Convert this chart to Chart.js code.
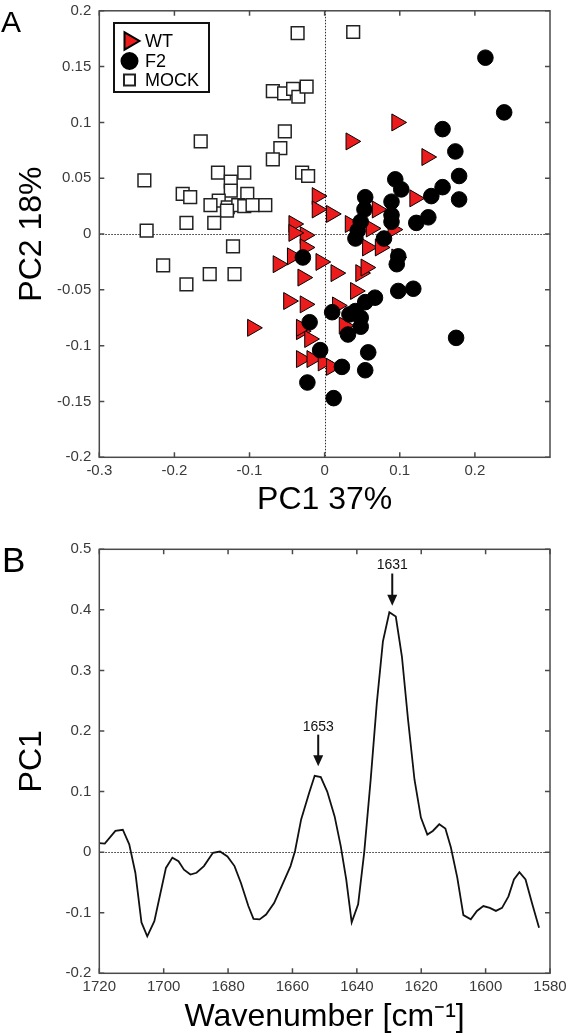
<!DOCTYPE html>
<html><head><meta charset="utf-8">
<script src="https://cdn.jsdelivr.net/npm/chart.js@4/dist/chart.umd.min.js"></script>
<style>
html,body{margin:0;padding:0;background:#fff;}
#wrap{position:relative;width:566px;height:1035px;overflow:hidden;background:#fff;}
canvas{position:absolute;left:0;}
#cA{top:0;} #cB{top:520px;}
.lab{position:absolute;font-family:"Liberation Sans",Arial,Helvetica,sans-serif;color:#000;}
</style></head><body>
<div id="wrap">
<canvas id="cA" width="566" height="520"></canvas>
<canvas id="cB" width="566" height="515"></canvas>
<div class="lab" style="left:1px;top:7px;font-size:30px;line-height:30px">A</div>
<div class="lab" style="left:2px;top:542px;font-size:35px;line-height:35px">B</div>
</div>
<script>
const FONT = '"Liberation Sans", Arial, Helvetica, sans-serif';

// ---------- Panel A data (PCA scores) ----------
const legendLabels = ['WT', 'F2', 'MOCK'];
const wtX = [0.096,0.035,0.136,-0.010,0.120,-0.010,0.009,0.070,-0.041,0.034,-0.026,0.062,0.091,-0.041,-0.026,0.057,0.074,-0.062,-0.043,-0.005,0.015,-0.029,0.048,0.055,0.041,-0.048,-0.026,0.017,-0.096,-0.031,-0.020,0.026,-0.031,-0.017,-0.002,0.009,0.096,-0.031];
const wtY = [0.100,0.083,0.069,0.034,0.032,0.022,0.018,0.022,0.009,0.009,-0.001,0.005,0.004,0.001,-0.012,-0.012,-0.012,-0.027,-0.020,-0.025,-0.035,-0.039,-0.035,-0.030,-0.051,-0.060,-0.063,-0.064,-0.084,-0.087,-0.094,-0.082,-0.112,-0.112,-0.115,-0.119,-0.021,-0.084];
const f2X = [0.214,0.239,0.157,0.174,0.179,0.157,0.179,0.142,0.094,0.102,0.089,0.054,0.053,0.089,0.089,0.138,0.122,0.048,0.044,0.041,0.079,0.098,0.096,-0.029,0.098,0.118,0.067,0.054,0.010,0.033,0.048,0.048,0.031,-0.020,-0.006,0.023,0.058,0.054,-0.023,0.012,0.175,0.041];
const f2Y = [0.158,0.109,0.094,0.074,0.052,0.042,0.031,0.034,0.049,0.040,0.029,0.033,0.022,0.017,0.011,0.015,0.010,0.011,0.003,-0.004,-0.004,-0.020,-0.027,-0.021,-0.051,-0.049,-0.057,-0.061,-0.070,-0.072,-0.075,-0.083,-0.090,-0.079,-0.104,-0.119,-0.106,-0.122,-0.133,-0.147,-0.093,-0.069];
const mockX = [-0.036,0.038,-0.069,-0.054,-0.042,-0.035,-0.024,-0.053,-0.059,-0.069,-0.165,-0.240,-0.030,-0.022,-0.142,-0.107,-0.125,-0.125,-0.103,-0.189,-0.179,-0.141,-0.152,-0.129,-0.115,-0.107,-0.096,-0.079,-0.130,-0.184,-0.147,-0.237,-0.122,-0.215,-0.153,-0.120,-0.184];
const mockY = [0.180,0.181,0.128,0.126,0.130,0.123,0.132,0.092,0.077,0.067,0.083,0.048,0.055,0.052,0.055,0.055,0.047,0.039,0.036,0.036,0.033,0.030,0.026,0.024,0.026,0.025,0.026,0.026,0.021,0.010,0.010,0.003,-0.011,-0.028,-0.036,-0.036,-0.045];
const xTicksA = [-0.3,-0.2,-0.1,0,0.1,0.2];
const xTickLabelsA = ['-0.3','-0.2','-0.1','0','0.1','0.2'];
const yTicksA = [-0.2,-0.15,-0.1,-0.05,0,0.05,0.1,0.15,0.2];
const yTickLabelsA = ['-0.2','-0.15','-0.1','-0.05','0','0.05','0.1','0.15','0.2'];

// ---------- Panel B data (PC1 loading) ----------
const wavenumber = [1720,1718.3,1715,1712.7,1710.7,1708.8,1706.9,1705.1,1702.9,1699.3,1697.3,1695.4,1693.7,1691.7,1689.8,1687.5,1684.7,1682.5,1680.2,1678,1676,1673.7,1672.1,1670.2,1668.2,1665.7,1663.1,1660.6,1659.2,1657.3,1654.8,1653.1,1651.2,1649.2,1646.9,1645,1643.3,1641.6,1639.6,1637.7,1635.7,1633.8,1631.9,1629.9,1627.9,1626,1624.1,1622.1,1620.1,1618.1,1616.4,1614.4,1612.5,1610.8,1608.8,1606.9,1604.6,1602.7,1600.7,1598.7,1596.8,1594.9,1592.9,1591.2,1589.5,1587.6,1585.6,1583.4];
const pc1 = [0.015,0.014,0.035,0.037,0.013,-0.034,-0.116,-0.139,-0.114,-0.026,-0.009,-0.015,-0.029,-0.037,-0.034,-0.023,-0.001,0.001,-0.007,-0.023,-0.051,-0.089,-0.110,-0.111,-0.103,-0.084,-0.053,-0.023,0.002,0.054,0.098,0.126,0.124,0.100,0.059,0.010,-0.045,-0.116,-0.086,0.000,0.120,0.246,0.348,0.396,0.389,0.323,0.219,0.120,0.057,0.029,0.035,0.046,0.039,0.008,-0.042,-0.104,-0.111,-0.097,-0.089,-0.092,-0.097,-0.092,-0.073,-0.045,-0.033,-0.045,-0.084,-0.125];
const xTicksB = [1720,1700,1680,1660,1640,1620,1600,1580];
const xTickLabelsB = ['1720','1700','1680','1660','1640','1620','1600','1580'];
const yTicksB = [-0.2,-0.1,0,0.1,0.2,0.3,0.4,0.5];
const yTickLabelsB = ['-0.2','-0.1','0','0.1','0.2','0.3','0.4','0.5'];
const peakLabels = ['1653','1631'];
const peakX = [1652,1629];
const peakTextY = [0.207,0.474];
const arrowTopY = [0.194,0.460];
const arrowTipY = [0.142,0.407];

// ---------- helpers ----------
const pts = (xs, ys) => xs.map((x, i) => ({x: x, y: ys[i]}));
function fixAxis(size) {
  return function(scale) {
    if (scale.isHorizontal()) scale.height = size; else scale.width = size;
    scale.paddingLeft = 0; scale.paddingRight = 0; scale.paddingTop = 0; scale.paddingBottom = 0;
  };
}
function setTicks(vals) { return function(scale) { scale.ticks = vals.map(v => ({value: v})); }; }
function labeler(vals, labels) { return function(v) { const i = vals.indexOf(v); return i >= 0 ? labels[i] : ''; }; }

const AXIS_COLOR = '#4a4a4a';
const TICK_COLOR = '#3a3a3a';

const framePlugin = {
  id: 'frame',
  beforeDatasetsDraw(chart, args, opts) {
    const {ctx, chartArea: a} = chart;
    ctx.save();
    ctx.strokeStyle = '#2e2e2e';
    ctx.lineWidth = 1;
    ctx.setLineDash([1.5, 1.5]);
    if (opts.zeroX) {
      const px = Math.round(chart.scales.x.getPixelForValue(0)) + 0.5;
      ctx.beginPath(); ctx.moveTo(px, a.top); ctx.lineTo(px, a.bottom); ctx.stroke();
    }
    if (opts.zeroY) {
      const py = Math.round(chart.scales.y.getPixelForValue(0)) + 0.5;
      ctx.beginPath(); ctx.moveTo(a.left, py); ctx.lineTo(a.right, py); ctx.stroke();
    }
    ctx.restore();
  },
  afterDatasetsDraw(chart) {
    const {ctx, chartArea: a} = chart;
    const L = 5;
    ctx.save();
    ctx.strokeStyle = AXIS_COLOR;
    ctx.lineWidth = 1.5;
    chart.scales.x.ticks.forEach(t => {
      const px = chart.scales.x.getPixelForValue(t.value);
      ctx.beginPath();
      ctx.moveTo(px, a.bottom); ctx.lineTo(px, a.bottom - L);
      ctx.moveTo(px, a.top); ctx.lineTo(px, a.top + L);
      ctx.stroke();
    });
    chart.scales.y.ticks.forEach(t => {
      const py = chart.scales.y.getPixelForValue(t.value);
      ctx.beginPath();
      ctx.moveTo(a.left, py); ctx.lineTo(a.left + L, py);
      ctx.moveTo(a.right, py); ctx.lineTo(a.right - L, py);
      ctx.stroke();
    });
    ctx.strokeRect(a.left, a.top, a.right - a.left, a.bottom - a.top);
    ctx.restore();
  }
};

const boxLegendPlugin = {
  id: 'boxLegend',
  afterDraw(chart, args, o) {
    if (!o || !o.box) return;
    const ctx = chart.ctx;
    ctx.save();
    ctx.fillStyle = '#fff';
    ctx.fillRect(o.box[0], o.box[1], o.box[2] - o.box[0], o.box[3] - o.box[1]);
    ctx.lineWidth = 2;
    ctx.strokeStyle = '#111';
    ctx.strokeRect(o.box[0], o.box[1], o.box[2] - o.box[0], o.box[3] - o.box[1]);
    chart.data.datasets.forEach(ds => {
      const idx = legendLabels.indexOf(ds.label);
      const y = o.rowY[idx];
      ctx.fillStyle = ds.backgroundColor;
      ctx.strokeStyle = ds.borderColor;
      Chart.helpers.drawPoint(ctx, {pointStyle: ds.pointStyle, rotation: ds.rotation || 0, radius: o.radius[idx], borderWidth: ds.borderWidth}, o.markerX, y);
      ctx.fillStyle = '#000';
      ctx.font = o.fontSize + 'px ' + FONT;
      ctx.textBaseline = 'middle';
      ctx.textAlign = 'left';
      ctx.fillText(ds.label, o.textX, y + 1);
    });
    ctx.restore();
  }
};

const arrowPlugin = {
  id: 'peakArrows',
  afterDatasetsDraw(chart, args, o) {
    if (!o || !o.on) return;
    const {ctx} = chart;
    const xs = chart.scales.x, ys = chart.scales.y;
    ctx.save();
    peakLabels.forEach((lab, i) => {
      const px = xs.getPixelForValue(peakX[i]);
      ctx.fillStyle = '#111';
      ctx.font = '14px ' + FONT;
      ctx.textAlign = 'center';
      ctx.textBaseline = 'middle';
      ctx.fillText(lab, px, ys.getPixelForValue(peakTextY[i]));
      const y0 = ys.getPixelForValue(arrowTopY[i]);
      const y1 = ys.getPixelForValue(arrowTipY[i]);
      const head = 11, hw = 5;
      ctx.strokeStyle = '#111';
      ctx.lineWidth = 2;
      ctx.beginPath(); ctx.moveTo(px, y0); ctx.lineTo(px, y1 - head + 1); ctx.stroke();
      ctx.beginPath();
      ctx.moveTo(px, y1); ctx.lineTo(px - hw, y1 - head); ctx.lineTo(px + hw, y1 - head); ctx.closePath();
      ctx.fill();
    });
    ctx.restore();
  }
};

const tickFont = {family: FONT, size: 15};
const titleFont = {family: FONT, size: 32, lineHeight: 1};

// ---------- Panel A ----------
new Chart(document.getElementById('cA'), {
  type: 'scatter',
  data: {
    datasets: [
      {label: 'F2', data: pts(f2X, f2Y), pointStyle: 'circle', pointRadius: 7.8, backgroundColor: '#000', borderColor: '#000', borderWidth: 1, order: 0},
      {label: 'WT', data: pts(wtX, wtY), pointStyle: 'triangle', rotation: 90, pointRotation: 90, pointRadius: 9.8, backgroundColor: '#ec1c1c', borderColor: '#000', borderWidth: 1, order: 1},
      {label: 'MOCK', data: pts(mockX, mockY), pointStyle: 'rect', pointRadius: 9, backgroundColor: '#fff', borderColor: '#222', borderWidth: 1.5, order: 2}
    ]
  },
  options: {
    responsive: false, animation: false, devicePixelRatio: 1, events: [],
    layout: {padding: {left: 0, top: 8.3, right: 16, bottom: 0}},
    plugins: {
      legend: {display: false}, tooltip: {enabled: false},
      frame: {zeroX: true, zeroY: true},
      boxLegend: {box: [114, 23, 209, 92], rowY: [41, 61, 80], radius: [10, 8, 7.8], markerX: 129.5, textX: 145, fontSize: 18}
    },
    scales: {
      x: {
        type: 'linear', min: -0.3, max: 0.3,
        afterBuildTicks: setTicks(xTicksA), afterFit: fixAxis(62.7),
        grid: {display: false, drawTicks: false, tickLength: 0}, border: {display: false},
        ticks: {font: tickFont, color: TICK_COLOR, padding: 5, maxRotation: 0, autoSkip: false, callback: labeler(xTicksA, xTickLabelsA)},
        title: {display: true, text: 'PC1 37%', font: titleFont, color: '#000', padding: {top: 0, bottom: 4}}
      },
      y: {
        type: 'linear', min: -0.2, max: 0.2,
        afterBuildTicks: setTicks(yTicksA), afterFit: fixAxis(99.3),
        grid: {display: false, drawTicks: false, tickLength: 0}, border: {display: false},
        ticks: {font: tickFont, color: TICK_COLOR, padding: 8, autoSkip: false, callback: labeler(yTicksA, yTickLabelsA)},
        title: {display: true, text: 'PC2 18%', font: titleFont, color: '#000', padding: {top: 16, bottom: 0}}
      }
    }
  },
  plugins: [framePlugin, boxLegendPlugin]
});

// ---------- Panel B ----------
new Chart(document.getElementById('cB'), {
  type: 'scatter',
  data: {
    datasets: [
      {label: 'PC1', data: pts(wavenumber, pc1), showLine: true, pointRadius: 0, borderColor: '#111', borderWidth: 1.8, tension: 0, fill: false}
    ]
  },
  options: {
    responsive: false, animation: false, devicePixelRatio: 1, events: [],
    layout: {padding: {left: 0, top: 29.3, right: 16, bottom: 0}},
    plugins: {
      legend: {display: false}, tooltip: {enabled: false},
      frame: {zeroX: false, zeroY: true},
      peakArrows: {on: true}
    },
    scales: {
      x: {
        type: 'linear', min: 1580, max: 1720, reverse: true,
        afterBuildTicks: setTicks(xTicksB), afterFit: fixAxis(61.7),
        grid: {display: false, drawTicks: false, tickLength: 0}, border: {display: false},
        ticks: {font: tickFont, color: TICK_COLOR, padding: 5, maxRotation: 0, autoSkip: false, callback: labeler(xTicksB, xTickLabelsB)},
        title: {display: true, text: 'Wavenumber [cm\u207B\u00B9]', font: titleFont, color: '#000', padding: {top: 0, bottom: 2}}
      },
      y: {
        type: 'linear', min: -0.2, max: 0.5,
        afterBuildTicks: setTicks(yTicksB), afterFit: fixAxis(99.3),
        grid: {display: false, drawTicks: false, tickLength: 0}, border: {display: false},
        ticks: {font: tickFont, color: TICK_COLOR, padding: 8, autoSkip: false, callback: labeler(yTicksB, yTickLabelsB)},
        title: {display: true, text: 'PC1', font: titleFont, color: '#000', padding: {top: 16, bottom: 0}}
      }
    }
  },
  plugins: [framePlugin, arrowPlugin]
});
</script>
</body></html>
